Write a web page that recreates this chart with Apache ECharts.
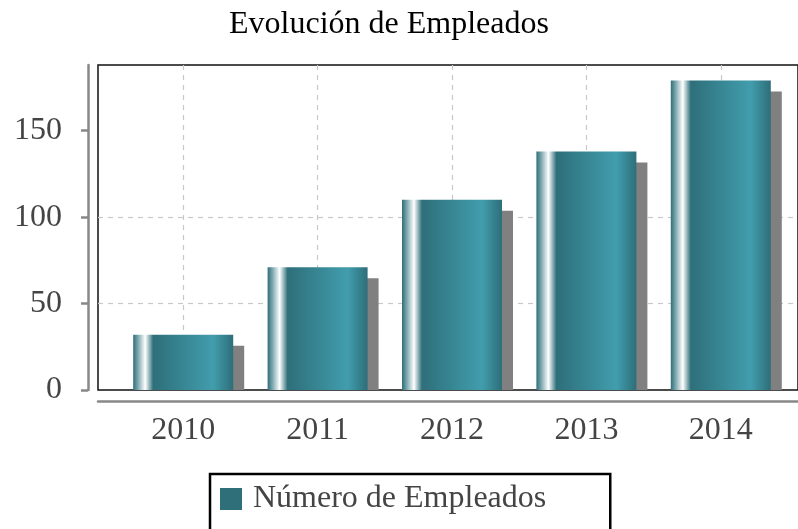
<!DOCTYPE html>
<html>
<head>
<meta charset="utf-8">
<script src="https://cdn.jsdelivr.net/npm/echarts@6/dist/echarts.min.js"></script>
<style>html,body{margin:0;padding:0;background:#fff;}#c{width:798px;height:529px;}</style>
</head>
<body>
<div id="c"></div>
<script>
const categories = ['2010', '2011', '2012', '2013', '2014'];
const employees = [32, 71, 110, 138, 179];
const yTicks = [0, 50, 100, 150];
const yMax = 188;
const seriesName = 'Número de Empleados';
const titleText = 'Evolución de Empleados';

const FONT = '"Liberation Serif", "Times New Roman", serif';
const chart = echarts.init(document.getElementById('c'), null, {renderer: 'canvas'});

const barGradient = new echarts.graphic.LinearGradient(0, 0, 1, 0, [
  {offset: 0, color: '#2e6e79'},
  {offset: 0.05, color: '#7fa9b0'},
  {offset: 0.12, color: '#ffffff'},
  {offset: 0.2, color: '#2e6f7a'},
  {offset: 0.8, color: '#419dad'},
  {offset: 1, color: '#2e6e79'}
]);

chart.setOption({
  animation: false,
  backgroundColor: '#fff',
  title: {
    text: titleText,
    left: 224,
    top: 4,
    textStyle: {fontFamily: FONT, fontSize: 32, fontWeight: 'normal', color: '#000'}
  },
  legend: {
    left: 210,
    top: 474,
    data: [{name: seriesName, itemStyle: {color: '#2e6f7a', shadowColor: 'transparent', shadowOffsetX: 0, shadowOffsetY: 0}}],
    icon: 'rect',
    itemWidth: 22,
    itemHeight: 22,
    padding: [9, 64, 40, 10],
    borderColor: '#000',
    borderWidth: 2.5,
    textStyle: {fontFamily: FONT, fontSize: 32, color: '#444', padding: [0, 0, 0, 6]}
  },
  grid: [
    {left: 98, top: 65, right: -5, height: 325, show: true, borderColor: '#111', borderWidth: 1.5, backgroundColor: 'transparent'},
    {left: 116, top: 65, right: 10, height: 325}
  ],
  xAxis: [
    {
      type: 'category', gridIndex: 0, data: categories, offset: 11,
      axisLine: {show: true, onZero: false, lineStyle: {color: '#888', width: 2.5}},
      axisTick: {show: false}, axisLabel: {show: false}, splitLine: {show: false}
    },
    {
      type: 'category', gridIndex: 1, data: categories,
      axisLine: {show: false}, axisTick: {show: false},
      axisLabel: {fontFamily: FONT, fontSize: 32, color: '#444', margin: 25},
      splitLine: {show: true, alignWithLabel: true, lineStyle: {color: '#c8c8c8', type: [5, 5], width: 1.2}}
    }
  ],
  yAxis: [
    {
      type: 'value', gridIndex: 0, min: 0, max: yMax, interval: 50, offset: 10,
      axisLine: {show: true, lineStyle: {color: '#888', width: 2.5}},
      axisTick: {show: true, length: 7, customValues: yTicks, lineStyle: {color: '#888', width: 2.5}},
      axisLabel: {fontFamily: FONT, fontSize: 32, color: '#444', margin: 26, customValues: yTicks},
      splitLine: {show: true, showMinLine: false, showMaxLine: false, lineStyle: {color: '#c8c8c8', type: [5, 5], width: 1.2}}
    },
    {type: 'value', gridIndex: 1, min: 0, max: yMax, show: false}
  ],
  series: [
    {
      name: 'shadow',
      type: 'custom',
      xAxisIndex: 1, yAxisIndex: 1,
      z: 1,
      clip: true,
      data: employees.map((v, i) => [i, v]),
      renderItem: function (params, api) {
        const idx = api.value(0);
        const v = api.value(1);
        const top = api.coord([idx, v]);
        const base = api.coord([idx, 0]);
        const w = 100, off = 11;
        return {
          type: 'rect',
          shape: {x: top[0] - w / 2 + off, y: top[1] + off, width: w, height: base[1] - top[1] - off},
          style: {fill: '#808080'}
        };
      }
    },
    {
      name: seriesName,
      type: 'bar',
      xAxisIndex: 1, yAxisIndex: 1,
      z: 2,
      barWidth: 100,
      data: employees,
      itemStyle: {color: barGradient}
    }
  ]
});
</script>
</body>
</html>
